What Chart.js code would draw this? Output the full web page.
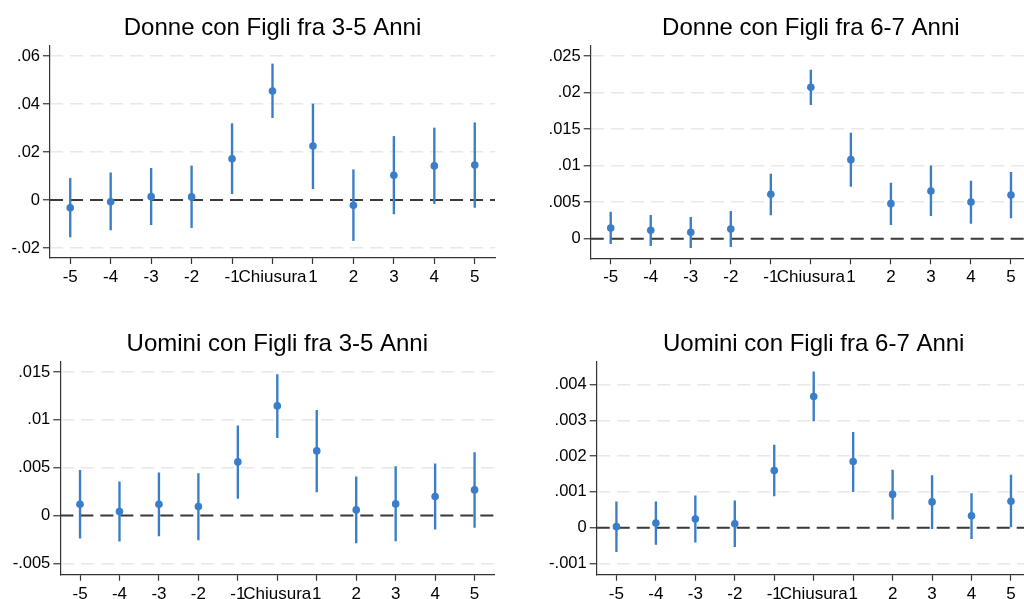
<!DOCTYPE html>
<html>
<head>
<meta charset="utf-8">
<script src="https://cdn.jsdelivr.net/npm/chart.js@4.4.1/dist/chart.umd.min.js"></script>
<style>
  body { margin: 0; background: #fff; overflow: hidden; width: 1024px; height: 599px; position: relative; }
  canvas { position: absolute; }
</style>
</head>
<body>
<canvas id="donne35" width="512" height="300" style="left:0px;top:0px"></canvas>
<canvas id="donne67" width="530" height="300" style="left:512px;top:0px"></canvas>
<canvas id="uomini35" width="512" height="299" style="left:0px;top:300px"></canvas>
<canvas id="uomini67" width="530" height="299" style="left:512px;top:300px"></canvas>
<script>
// periods around the closure
const periods = [-5, -4, -3, -2, -1, 0, 1, 2, 3, 4, 5];
const periodLabels = ['-5', '-4', '-3', '-2', '-1', 'Chiusura', '1', '2', '3', '4', '5'];

// Donne con figli 3-5
const donne35Coef = [-0.0032, -0.0007, 0.0014, 0.0013, 0.0172, 0.0454, 0.0225, -0.0022, 0.0103, 0.0142, 0.0146];
const donne35Low  = [-0.0154, -0.0125, -0.0103, -0.0115, 0.0026, 0.0343, 0.0047, -0.0169, -0.0058, -0.0015, -0.0031];
const donne35High = [0.0090, 0.0113, 0.0132, 0.0142, 0.0318, 0.0567, 0.0400, 0.0126, 0.0265, 0.0300, 0.0322];
const donne35Ticks = [-0.02, 0, 0.02, 0.04, 0.06];
const donne35TickLabels = ['-.02', '0', '.02', '.04', '.06'];

// Donne con figli 6-7
const donne67Coef = [0.00146, 0.00114, 0.00087, 0.00132, 0.00607, 0.02071, 0.01081, 0.00479, 0.00652, 0.00502, 0.00598];
const donne67Low  = [-0.00068, -0.00096, -0.00123, -0.00110, 0.00324, 0.01834, 0.00716, 0.00192, 0.00315, 0.00210, 0.00283];
const donne67High = [0.00365, 0.00319, 0.00292, 0.00374, 0.00885, 0.02308, 0.01446, 0.00762, 0.00995, 0.00789, 0.00908];
const donne67Ticks = [0, 0.005, 0.01, 0.015, 0.02, 0.025];
const donne67TickLabels = ['0', '.005', '.01', '.015', '.02', '.025'];

// Uomini con figli 3-5
const uomini35Coef = [0.00118, 0.00042, 0.00118, 0.00094, 0.00561, 0.01146, 0.00676, 0.00059, 0.00122, 0.00199, 0.00268];
const uomini35Low  = [-0.00237, -0.00268, -0.00213, -0.00254, 0.00178, 0.00815, 0.00247, -0.00286, -0.00265, -0.00143, -0.00125];
const uomini35High = [0.00474, 0.00352, 0.00446, 0.00439, 0.00937, 0.01474, 0.01101, 0.00404, 0.00512, 0.00540, 0.00659];
const uomini35Ticks = [-0.005, 0, 0.005, 0.01, 0.015];
const uomini35TickLabels = ['-.005', '0', '.005', '.01', '.015'];

// Uomini con figli 6-7
const uomini67Coef = [0.000028, 0.00013, 0.00024, 0.00011, 0.00160, 0.00367, 0.00185, 0.00093, 0.00072, 0.00033, 0.00074];
const uomini67Low  = [-0.00067, -0.00047, -0.00041, -0.00053, 0.00089, 0.00299, 0.00101, 0.00024, -0.00003, -0.00031, 0.0];
const uomini67High = [0.00072, 0.00072, 0.00089, 0.00075, 0.00231, 0.00436, 0.00267, 0.00161, 0.00146, 0.00095, 0.00147];
const uomini67Ticks = [-0.001, 0, 0.001, 0.002, 0.003, 0.004];
const uomini67TickLabels = ['-.001', '0', '.001', '.002', '.003', '.004'];

const BLUE = '#3a7dc9';
const FONT = "'Liberation Sans', Arial, sans-serif";

function makePanel(id, title, coef, low, high, yTicks, yTickLabels, lay) {
    const c = document.getElementById(id);
    const titleSize = 24;
    const lh = titleSize * 1.2;
    const padTop = lay.titleY - lh / 2;
    const padBottom = lay.areaTop - padTop - lh;

    return new Chart(c, {
        type: 'scatter',
        data: {
            datasets: [
                {
                    type: 'scatter',
                    data: periods.map((p, i) => ({ x: p, y: coef[i] })),
                    backgroundColor: BLUE,
                    borderWidth: 0,
                    pointRadius: 3.8,
                    order: 0
                },
                {
                    // confidence intervals as floating bars
                    type: 'bar',
                    data: periods.map((p, i) => ({ x: p, y: [low[i], high[i]] })),
                    backgroundColor: BLUE,
                    borderWidth: 0,
                    barThickness: 1.7,
                    order: 1
                },
                {
                    type: 'line',
                    data: [{ x: -5.5, y: 0 }, { x: 5.5, y: 0 }],
                    borderColor: '#3a3a3a',
                    borderWidth: 2,
                    borderDash: [13, 7],
                    pointRadius: 0,
                    order: 2
                }
            ]
        },
        options: {
            responsive: false,
            animation: false,
            devicePixelRatio: 1,
            layout: { padding: { left: 0, right: c.width - lay.areaRight, top: 0, bottom: 0 } },
            plugins: {
                legend: { display: false },
                tooltip: { enabled: false },
                title: {
                    display: true,
                    text: title,
                    fullSize: false,
                    color: '#000',
                    font: { family: FONT, size: titleSize, weight: 'normal' },
                    padding: { top: padTop, bottom: padBottom }
                }
            },
            scales: {
                x: {
                    type: 'linear',
                    min: -5.5,
                    max: 5.5,
                    offset: false,
                    afterBuildTicks: s => { s.ticks = periods.map(v => ({ value: v })); },
                    afterFit: s => { s.height = c.height - lay.areaBottom; },
                    ticks: {
                        autoSkip: false,
                        maxRotation: 0,
                        minRotation: 0,
                        padding: 3,
                        color: '#000',
                        font: { family: FONT, size: 17 },
                        callback: v => periodLabels[periods.indexOf(v)]
                    },
                    grid: { drawOnChartArea: false, drawTicks: true, tickLength: 6, tickColor: '#333', tickWidth: 1.2, offset: false },
                    border: { color: '#333', width: 1.2 }
                },
                y: {
                    min: lay.yMin,
                    max: lay.yMax,
                    afterBuildTicks: s => { s.ticks = yTicks.map(v => ({ value: v })); },
                    afterFit: s => { s.width = lay.areaLeft; },
                    ticks: {
                        autoSkip: false,
                        padding: 3,
                        color: '#000',
                        font: { family: FONT, size: 16.5 },
                        callback: (v, i) => yTickLabels[i]
                    },
                    grid: {
                        color: '#e8e8e8',
                        lineWidth: 1.5,
                        tickLength: 7,
                        tickColor: '#333',
                        tickWidth: 1.2
                    },
                    border: { color: '#333', width: 1.2, dash: [13, 7] }
                }
            }
        }
    });
}

makePanel('donne35', 'Donne con Figli fra 3-5 Anni', donne35Coef, donne35Low, donne35High,
    donne35Ticks, donne35TickLabels,
    { areaLeft: 50, areaRight: 495, areaTop: 46, areaBottom: 258, titleY: 28, yMin: -0.02417, yMax: 0.06417 });

makePanel('donne67', 'Donne con Figli fra 6-7 Anni', donne67Coef, donne67Low, donne67High,
    donne67Ticks, donne67TickLabels,
    { areaLeft: 78.7, areaRight: 519, areaTop: 45.7, areaBottom: 258.3, titleY: 28, yMin: -0.00269, yMax: 0.02641 });

makePanel('uomini35', 'Uomini con Figli fra 3-5 Anni', uomini35Coef, uomini35Low, uomini35High,
    uomini35Ticks, uomini35TickLabels,
    { areaLeft: 60.3, areaRight: 494.3, areaTop: 61.7, areaBottom: 274.7, titleY: 44, yMin: -0.00618, yMax: 0.01608 });

makePanel('uomini67', 'Uomini con Figli fra 6-7 Anni', uomini67Coef, uomini67Low, uomini67High,
    uomini67Ticks, uomini67TickLabels,
    { areaLeft: 84.7, areaRight: 518.7, areaTop: 61.7, areaBottom: 274.7, titleY: 44, yMin: -0.001317, yMax: 0.004644 });
</script>
</body>
</html>
